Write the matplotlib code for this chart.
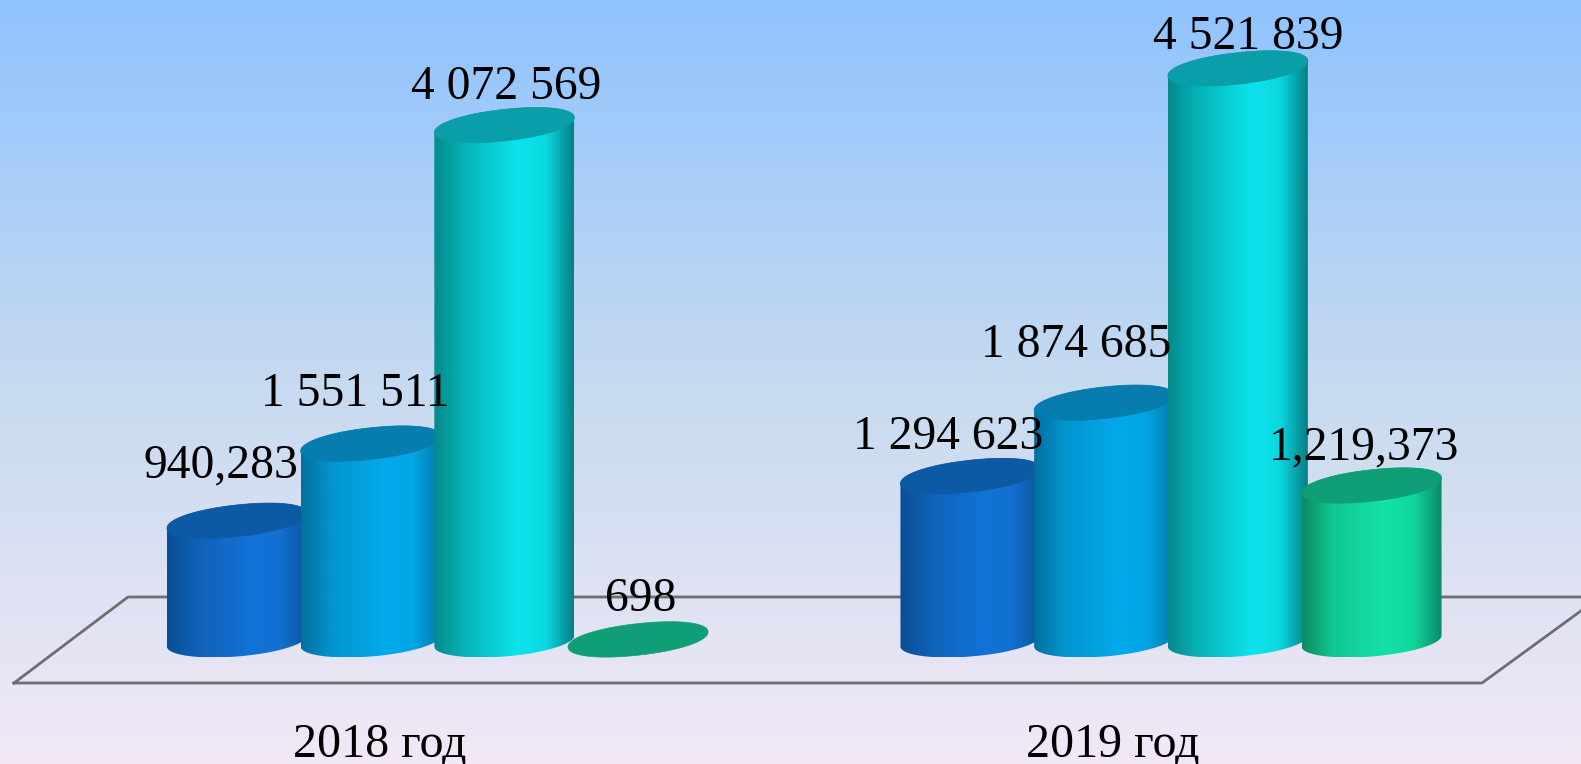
import numpy as np
import matplotlib
matplotlib.use("Agg")
import matplotlib.pyplot as plt
from matplotlib.colors import LinearSegmentedColormap
from matplotlib.patches import Polygon

plt.rcParams["font.family"] = ["Liberation Serif", "DejaVu Serif"]

# data
years = ["2018 год", "2019 год"]
values_2018 = [940283, 1551511, 4072569, 698]
values_2019 = [1294623, 1874685, 4521839, 1219373]
labels_2018 = ["940,283", "1 551 511", "4 072 569", "698"]
labels_2019 = ["1 294 623", "1 874 685", "4 521 839", "1,219,373"]

# label nudges in pixels, (dx, height above cap centre)
offsets_2018 = [(-16, 43), (-15, 38), (2, 26), (3, 28)]
offsets_2019 = [(-22, 27), (-28, 46), (10, 19), (-7, 26)]

# edge, shoulder, highlight, near-highlight, edge + cap colour
shades = [
    (["#0A4E94", "#0F62B8", "#1272D6", "#1170D0", "#0B559F"], "#0C5AA4"),
    (["#03709F", "#0395CF", "#02A9EA", "#02A5E4", "#037AAD"], "#067DAE"),
    (["#058A8C", "#06B4B8", "#0CE3EC", "#0AD8E0", "#067F85"], "#0A9EA8"),
    (["#0B8A63", "#0FC792", "#13E2A6", "#11D69C", "#0C8A66"], "#0F9E76"),
]

W, H = 1581, 764
BASE_PX = 639.5      # pixel row of value 0
PX_PER_UNIT = 1.263e-4
GROUP_X = [437.5, 1171]
STEP = 133.7
R = 70               # cylinder half width
B, K = 15.8, 7.5     # cap depth and tilt, px
B_LOW, K_LOW = 15.5, 5.5   # the foot of the cylinder is tilted less


def px_y(row):
    return (BASE_PX - row) / PX_PER_UNIT


def ring(cx, val, t, b=B, k=K, lift=0, blunt=0.95):
    c = np.sign(np.cos(t)) * np.abs(np.cos(t)) ** blunt
    s = np.sign(np.sin(t)) * np.abs(np.sin(t)) ** blunt
    x = cx + R * c
    y = val + (b * s + k * c + lift) / PX_PER_UNIT
    return x, y


def cylinder(ax, cx, val, colors, cap):
    # a bar this low is only its cap
    if val * PX_PER_UNIT > 1:
        cmap = LinearSegmentedColormap.from_list(
            "c", list(zip([0, 0.22, 0.6, 0.8, 1], colors)))
        t_low = np.linspace(np.pi, 2 * np.pi, 80)
        t_up = np.linspace(0, np.pi, 80)
        x0, y0 = ring(cx, 0, t_low, B_LOW, K_LOW, -1.5, blunt=1)
        x1, y1 = ring(cx, val, t_up)
        pts = np.column_stack([np.r_[x0, x1], np.r_[y0, y1]])
        body = Polygon(pts, closed=True, transform=ax.transData, fc="none", ec="none")
        ax.add_patch(body)
        im = ax.imshow(np.linspace(0, 1, 256).reshape(1, -1), cmap=cmap, aspect="auto",
                       extent=[cx - R, cx + R, y0.min(), y1.max()],
                       interpolation="bilinear", zorder=3)
        im.set_clip_path(body)
    t = np.linspace(0, 2 * np.pi, 160)
    xc, yc = ring(cx, val, t)
    ax.fill(xc, yc, color=cap, lw=0.5, zorder=3)


fig = plt.figure(figsize=(W / 100, H / 100), dpi=100)
ax = fig.add_axes([0, 0, 1, 1])

bg = LinearSegmentedColormap.from_list(
    "bg", [(0, "#F2E8F6"), (0.5, "#C6DAF0"), (1, "#8FC3FF")])
ax.imshow(np.linspace(0, 1, 256).reshape(-1, 1), cmap=bg, aspect="auto",
          origin="lower", extent=[0, W, px_y(H), px_y(0)], zorder=0)

# floor
floor_x = [14, 128, 1600, 1482, 14]
floor_y = [px_y(683), px_y(597), px_y(597), px_y(683), px_y(683)]
ax.plot(floor_x, floor_y, color="#6E6E6E", lw=2, zorder=1, solid_joinstyle="miter")

for gx, name, vals, labs, offs in zip(GROUP_X, years,
                                      [values_2018, values_2019],
                                      [labels_2018, labels_2019],
                                      [offsets_2018, offsets_2019]):
    for i, (v, lab, (dx, dy)) in enumerate(zip(vals, labs, offs)):
        cx = gx + (i - 1.5) * STEP
        cylinder(ax, cx, v, *shades[i])
        ax.text(cx + dx, v + dy / PX_PER_UNIT, lab, fontsize=34.3, color="black",
                ha="center", va="baseline", zorder=5)
    ax.text(gx - 58, px_y(757), name, fontsize=34.6, color="black",
            ha="center", va="baseline", zorder=5)

ax.set_xlim(0, W)
ax.set_ylim(px_y(H), px_y(0))
ax.axis("off")

fig.savefig("out.png", dpi=100)
